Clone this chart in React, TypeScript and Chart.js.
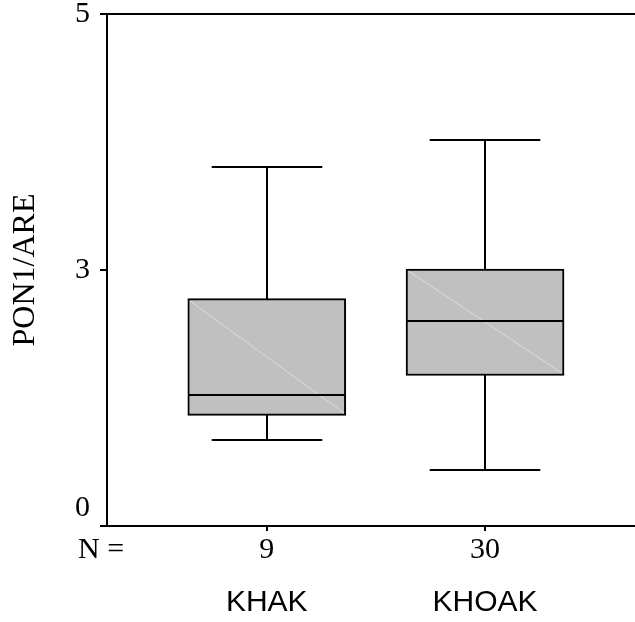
import { useEffect, useRef } from "react";
import { Chart, registerables } from "chart.js";

Chart.register(...registerables);

// Groups and their sample sizes
const CATEGORIES = ["KHAK", "KHOAK"];
const N_COUNTS = [9, 30];
const GROUP_POS = [1, 2];

// Five-number summaries per group
const WHISKER_LOW = [0.84, 0.55];
const Q1 = [1.08, 1.47];
const MEDIAN = [1.28, 2.0];
const Q3 = [2.22, 2.51];
const WHISKER_HIGH = [3.51, 3.77];

// Value axis ticks (labels rounded to whole numbers)
const Y_TICKS = [0, 2.5, 5];
const Y_TICK_LABELS = ["0", "3", "5"];

const SERIF = '"Liberation Serif", "Times New Roman", serif';
const SANS = '"Liberation Sans", Arial, sans-serif';

const X_MIN = 0.268;
const X_MAX = 2.687;

const boxPlotExtras = {
  id: "boxPlotExtras",
  afterDatasetsDraw(chart: any) {
    const { ctx } = chart;
    const x = chart.scales.x;
    const y = chart.scales.y;
    const meta = chart.getDatasetMeta(0);
    const seg = (x1: number, y1: number, x2: number, y2: number) => {
      ctx.beginPath();
      ctx.moveTo(x1, y1);
      ctx.lineTo(x2, y2);
      ctx.stroke();
    };
    ctx.save();
    GROUP_POS.forEach((pos, i) => {
      const bar = meta.data[i];
      const cx = Math.round(x.getPixelForValue(pos));
      const half = bar.width / 2;
      const capHalf = bar.width * 0.35;
      const yTop = Math.round(y.getPixelForValue(Q3[i]));
      const yBot = Math.round(y.getPixelForValue(Q1[i]));
      const yMed = Math.round(y.getPixelForValue(MEDIAN[i]));
      const yHi = Math.round(y.getPixelForValue(WHISKER_HIGH[i]));
      const yLo = Math.round(y.getPixelForValue(WHISKER_LOW[i]));

      // faint corner-to-corner sheen inside the box
      ctx.strokeStyle = "#dcdcdc";
      ctx.lineWidth = 1;
      seg(cx - half + 2, yTop + 2, cx + half - 2, yBot - 2);

      ctx.strokeStyle = "#000";
      ctx.lineWidth = 2;
      ctx.lineCap = "butt";
      // median
      seg(cx - half, yMed, cx + half, yMed);
      // upper whisker and cap
      seg(cx, yTop, cx, yHi);
      seg(cx - capHalf, yHi, cx + capHalf, yHi);
      // lower whisker and cap
      seg(cx, yBot, cx, yLo);
      seg(cx - capHalf, yLo, cx + capHalf, yLo);
    });

    // "N =" caption in line with the sample-size labels
    const xs = chart.scales.x;
    ctx.fillStyle = "#000";
    ctx.font = `30px ${SERIF}`;
    ctx.textAlign = "left";
    ctx.textBaseline = "middle";
    ctx.fillText("N =", 78, xs.top + 5 + 1 + 18);
    ctx.restore();
  },
};

export default function App() {
  const canvasRef = useRef<HTMLCanvasElement | null>(null);

  useEffect(() => {
    document.body.style.margin = "0";
    const canvas = canvasRef.current;
    if (!canvas) return;

    const groupTicks = (s: any) => {
      s.ticks = GROUP_POS.map((v) => ({ value: v }));
    };

    const chart = new Chart(canvas, {
      type: "bar",
      data: {
        datasets: [
          {
            data: GROUP_POS.map((p, i) => ({ x: p, y: [Q1[i], Q3[i]] })) as any,
            backgroundColor: "#c0c0c0",
            borderColor: "#000",
            borderWidth: 2,
            borderSkipped: false,
            barThickness: 158,
          },
        ],
      },
      options: {
        responsive: false,
        animation: false,
        devicePixelRatio: 1,
        layout: { padding: { top: 14, left: 0, right: 0, bottom: 0 } },
        plugins: {
          legend: { display: false },
          tooltip: { enabled: false },
        },
        scales: {
          x: {
            type: "linear",
            position: "bottom",
            min: X_MIN,
            max: X_MAX,
            offset: false,
            weight: 0,
            grid: {
              offset: false,
              drawOnChartArea: false,
              drawTicks: true,
              tickLength: 5,
              color: "#000",
              lineWidth: 2,
            },
            border: { display: true, color: "#000", width: 2 },
            ticks: {
              autoSkip: false,
              maxRotation: 0,
              padding: 1,
              color: "#000",
              font: { family: SERIF, size: 30 },
              callback: (_v: any, i: number) => String(N_COUNTS[i]),
            },
            afterBuildTicks: groupTicks,
            afterFit: (s: any) => {
              s.paddingLeft = 0;
              s.paddingRight = 0;
              s.height = 42;
            },
          } as any,
          x2: {
            type: "linear",
            axis: "x",
            position: "bottom",
            min: X_MIN,
            max: X_MAX,
            offset: false,
            weight: 1,
            grid: { display: false, drawTicks: false },
            border: { display: false },
            ticks: {
              autoSkip: false,
              maxRotation: 0,
              padding: 17,
              color: "#000",
              font: { family: SANS, size: 30 },
              callback: (_v: any, i: number) => CATEGORIES[i],
            },
            afterBuildTicks: groupTicks,
            afterFit: (s: any) => {
              s.paddingLeft = 0;
              s.paddingRight = 0;
              s.height = 54;
            },
          } as any,
          y: {
            type: "linear",
            min: 0,
            max: 5,
            grid: {
              drawOnChartArea: true,
              drawTicks: true,
              tickLength: 7,
              lineWidth: 2,
              tickColor: "#000",
              color: (c: any) =>
                c.tick && c.tick.value === 2.5 ? "rgba(0,0,0,0)" : "#000",
            },
            border: { display: true, color: "#000", width: 2 },
            ticks: {
              padding: 10,
              color: "#000",
              font: { family: SERIF, size: 30 },
              callback: (_v: any, i: number) =>
                i === 0 ? [Y_TICK_LABELS[0], ""] : Y_TICK_LABELS[i],
            },
            afterBuildTicks: (s: any) => {
              s.ticks = Y_TICKS.map((v) => ({ value: v }));
            },
            title: {
              display: true,
              text: "PON1/ARE",
              color: "#000",
              font: { family: SERIF, size: 32 },
              padding: { top: 6, bottom: 0 },
            },
            afterFit: (s: any) => {
              s.width = 107;
              s.paddingTop = 0;
              s.paddingBottom = 0;
            },
          } as any,
        },
      },
      plugins: [boxPlotExtras],
    });

    return () => chart.destroy();
  }, []);

  return (
    <div style={{ width: 635, height: 622, background: "#fff" }}>
      <canvas ref={canvasRef} width={635} height={622} style={{ display: "block" }} />
    </div>
  );
}
